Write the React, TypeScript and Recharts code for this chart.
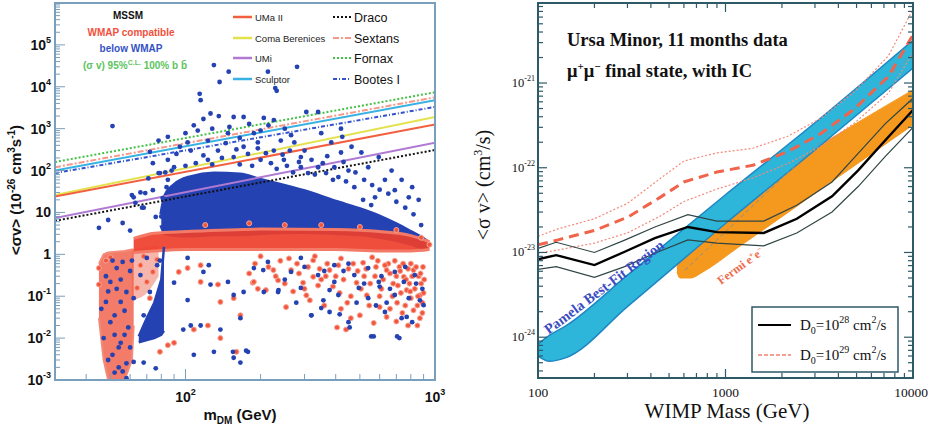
import { Area, ComposedChart, Line, Scatter, XAxis, YAxis } from 'recharts';

const SANS = '"Liberation Sans", Arial, sans-serif';
const SERIF = '"Liberation Serif", "Times New Roman", serif';

// ---------- left panel: MSSM scan against dSph limits ----------
const MASS_RANGE = [30, 1000];
const SIGMA_RANGE = [1e-3, 1e6];
const MASS_TICKS = [30, 40, 50, 60, 70, 80, 90, 100, 200, 300, 400, 500, 600, 700, 800, 900, 1000];
const SIGMA_DECADES = [-3, -2, -1, 0, 1, 2, 3, 4, 5];

// limit lines, value at 30 GeV and at 1000 GeV
const LIMIT_NAMES = ['Fornax', 'Sextans', 'Sculptor', 'Bootes I', 'Coma Berenices', 'UMa II', 'UMi', 'Draco'];
const LIMIT_AT_30 = [160, 120, 100, 87, 26, 24, 7.4, 6.3];
const LIMIT_AT_1000 = [7400, 5600, 4800, 3300, 1900, 1250, 460, 310];

// dense parts of the scan: [mass, low, high]
const BLUE_CORE = [
  [80, 5, 9], [83, 3.2, 25], [90, 2.9, 45], [105, 2.8, 70], [130, 3, 85], [165, 3, 80],
  [200, 3.2, 60], [300, 3.4, 32], [400, 3.2, 18], [500, 3, 12], [600, 2.6, 8],
  [700, 2.2, 5.2], [800, 1.8, 3.4], [900, 1.5, 2.3], [940, 1.6, 1.9],
];
const BLUE_TONGUE = [[65, 0.008, 0.011], [70, 0.009, 0.03], [75, 0.01, 0.07], [80, 0.012, 0.25], [82, 0.015, 1.5]];
const RED_BAND = [[62, 1.1, 2.4], [75, 1.2, 3.2], [100, 1.3, 3.5], [200, 1.3, 4], [400, 1.3, 3.9], [600, 1.2, 3.5], [800, 1.2, 2.8], [950, 1.3, 2]];
const RED_STRIP = [[45, 0.03, 0.6], [47, 0.003, 1], [49, 0.001, 1.1], [57, 0.001, 1.2], [61, 0.003, 1.3], [62, 0.02, 1.3]];
const RED_SHOULDER = [[61, 0.08, 1.3], [70, 0.12, 1.5], [78, 0.3, 1.6]];

// sparse points: [mass, <sigma v>]
const BLUE_SPARSE = [
  [51, 1150], [130, 33000], [149, 23000], [137, 13000], [214, 23000], [229, 9300], [232, 8000], [280, 30000],
  [114, 6800], [115, 4800], [118, 1700], [126, 2300], [136, 2000], [108, 1200], [156, 1900], [171, 1900],
  [206, 1800], [226, 1600], [305, 2500], [340, 2500], [420, 1000], [425, 640], [85, 640], [78, 520],
  [72, 280], [95, 370], [100, 780], [102, 470], [123, 520], [148, 780], [188, 780], [195, 470], [241, 520],
  [273, 470], [350, 780], [384, 470], [463, 370], [507, 270], [595, 210], [395, 120], [540, 120], [670, 100],
  [450, 100], [420, 270], [290, 210], [310, 87], [630, 60], [735, 60], [810, 40], [860, 20], [785, 23],
  [555, 15], [515, 20], [62, 23], [66, 30], [68, 13], [79, 87], [85, 60], [90, 40], [85, 180], [123, 180],
  [135, 300], [156, 210], [171, 370], [200, 180], [226, 300], [248, 180], [290, 120], [340, 120], [366, 87],
  [410, 70], [475, 40], [575, 23], [690, 34], [61, 26], [69, 29], [74, 34], [81, 22], [63, 17], [67, 13],
  [76, 7.8], [49, 6.6], [45, 4.3], [56, 5.6], [60, 3.7], [71, 65], [78, 87], [90, 120], [83, 90], [74, 150],
  [110, 150], [118, 230], [128, 140], [140, 200], [145, 450], [160, 320], [165, 140], [178, 250], [185, 130],
  [195, 340], [210, 260], [220, 150], [232, 110], [245, 240], [255, 130], [262, 300], [270, 90], [285, 160],
  [300, 300], [320, 180], [330, 80], [355, 150], [370, 220], [390, 60], [430, 160], [440, 55], [480, 90],
  [520, 60], [560, 45], [600, 35], [650, 28], [700, 18], [760, 13], [820, 9], [880, 5], [105, 300], [112, 900],
  [128, 1000], [150, 1100], [165, 600], [180, 1300], [200, 900], [215, 1200], [250, 1000], [265, 700],
  [100, 130], [92, 250], [88, 100], [84, 40], [82, 15], [80, 8], [83, 5],
  [102, 0.82], [90, 0.21], [102, 0.081], [98, 0.016], [105, 0.02], [115, 0.02], [108, 0.004], [130, 0.0047],
  [156, 0.0034], [166, 0.0026], [178, 0.0047], [155, 0.0047], [76, 0.0019], [68, 0.0026], [124, 0.55],
  [118, 0.38], [126, 0.19], [148, 0.22], [156, 0.107], [166, 0.03], [138, 0.016], [171, 0.126], [206, 0.126],
  [235, 0.126], [290, 0.158], [320, 0.035], [350, 0.052], [378, 0.042], [410, 0.107], [450, 0.024],
  [455, 0.018], [555, 0.011], [705, 0.011], [735, 0.03], [810, 0.024], [900, 0.061], [630, 0.042],
  [690, 0.107], [785, 0.09], [540, 0.09], [495, 0.158], [395, 0.22], [340, 0.32], [265, 0.38], [188, 0.47],
  [214, 0.66], [290, 0.82], [395, 0.55], [540, 0.47], [690, 0.38], [830, 0.32], [750, 0.22], [595, 0.22],
  [475, 0.32], [175, 0.005], [319, 0.035], [568, 0.011], [720, 0.01], [415, 0.037], [236, 0.14], [278, 0.07],
  [357, 0.08], [485, 0.07], [640, 0.07], [870, 0.08], [205, 0.42], [378, 0.14], [600, 0.17], [770, 0.032],
  [300, 0.5], [450, 0.6], [520, 0.2], [610, 0.3], [660, 0.15], [760, 0.5], [840, 0.2], [890, 0.15],
  [580, 0.06], [430, 0.4], [250, 0.25], [360, 0.4],
  [58, 0.0011], [56, 0.0016], [62, 0.0027], [51, 0.004], [52, 0.035], [55, 0.073], [58, 0.126], [50, 0.22],
  [53, 0.47], [56, 0.66], [59, 0.018], [55, 0.0077], [50, 0.024], [48, 0.073], [51, 0.71], [62, 0.09],
  [68, 0.035], [72, 0.126], [66, 0.32], [70, 0.82], [77, 0.55], [79, 0.71], [61, 0.71],
  [47, 0.01], [49, 0.003], [52, 0.0015], [54, 0.006], [57, 0.012], [53, 0.15], [48, 0.3], [60, 0.4],
  [46, 0.05], [55, 0.25], [57, 0.045], [49, 0.13], [60, 0.006], [52, 0.012], [58, 0.0025], [54, 0.002],
];
const RED_SPARSE = [
  [186, 0.21], [210, 0.14], [235, 0.24], [265, 0.42], [296, 0.21], [325, 0.29], [378, 0.42], [415, 0.12],
  [485, 0.21], [533, 0.105], [568, 0.023], [640, 0.032], [705, 0.07], [770, 0.14], [820, 0.046], [870, 0.105],
  [440, 0.016], [405, 0.018], [305, 0.105], [253, 0.055], [225, 0.42], [640, 0.42], [750, 0.29], [820, 0.42],
  [325, 0.72], [515, 0.63], [115, 0.22], [135, 0.19], [156, 0.09], [166, 0.035], [160, 0.0047], [108, 0.016],
  [123, 0.02], [138, 0.01], [85, 0.0068], [90, 0.0077], [79, 0.0047], [188, 0.22], [138, 0.073], [94, 0.38],
  [102, 0.47], [115, 0.55], [45, 0.47], [45, 0.19], [48, 0.71], [50, 0.85], [66, 0.55], [70, 0.22], [74, 0.38],
  [64, 0.158], [68, 0.9], [77, 0.75], [72, 0.09], [120, 5], [180, 5.5], [250, 5], [350, 5], [500, 4.5],
  [700, 3.8], [880, 2.5], [950, 1.7], [200, 0.9], [260, 0.8], [330, 0.9], [420, 0.8], [560, 0.85], [650, 0.6],
  [720, 0.5], [800, 0.6], [880, 0.2], [900, 0.12], [850, 0.06],
  [190, 0.6], [230, 0.3], [280, 0.6], [300, 0.15], [350, 0.25], [370, 0.6], [400, 0.3], [450, 0.45],
  [460, 0.1], [520, 0.3], [550, 0.2], [580, 0.5], [600, 0.1], [620, 0.25], [680, 0.2], [700, 0.3], [730, 0.12],
  [760, 0.06], [790, 0.2], [830, 0.15], [860, 0.3], [890, 0.04], [660, 0.05], [740, 0.04], [800, 0.09],
  [850, 0.02], [600, 0.055], [500, 0.035], [360, 0.06],
  [180, 0.35], [195, 0.15], [215, 0.5], [240, 0.7], [250, 0.2], [270, 0.13], [285, 0.35], [310, 0.5],
  [315, 0.08], [340, 0.18], [345, 0.45], [365, 0.3], [390, 0.17], [410, 0.55], [430, 0.25], [445, 0.07],
  [470, 0.6], [490, 0.4], [505, 0.15], [530, 0.45], [545, 0.06], [575, 0.3], [590, 0.7], [610, 0.15],
  [630, 0.55], [660, 0.35], [675, 0.1], [690, 0.7], [710, 0.18], [725, 0.4], [745, 0.6], [765, 0.25],
  [780, 0.45], [795, 0.13], [810, 0.3], [840, 0.5], [855, 0.1], [875, 0.35], [890, 0.07], [905, 0.25],
  [895, 0.5], [870, 0.03], [780, 0.02], [700, 0.025], [460, 0.03], [420, 0.05],
];

// ---------- right panel: Ursa Minor limits ----------
const WIMP_RANGE = [100, 10000];
const XSEC_RANGE = [3.3e-25, 8.8e-21];
const WIMP_TICKS = [100, 200, 300, 400, 500, 600, 700, 800, 900, 1000, 2000, 3000, 4000, 5000, 6000, 7000, 8000, 9000, 10000];
const XSEC_DECADES = [-25, -24, -23, -22, -21];

const D28_MASS = [100, 125, 200, 290, 420, 630, 900, 1600, 2400, 3700, 5100, 7100, 10000];
const D28_CENTRAL = [8.3e-24, 9.3e-24, 7.1e-24, 1.02e-23, 1.48e-23, 2.0e-23, 1.74e-23, 1.7e-23, 2.5e-23, 4.6e-23, 9.3e-23, 2.1e-22, 4.8e-22];
const D28_UPPER = [1.12e-23, 1.32e-23, 1.0e-23, 1.4e-23, 2.0e-23, 2.8e-23, 2.35e-23, 2.35e-23, 3.6e-23, 6.8e-23, 1.48e-22, 3.3e-22, 6.6e-22];
const D28_LOWER = [6.3e-24, 6.8e-24, 5.1e-24, 6.8e-24, 9.8e-24, 1.41e-23, 1.29e-23, 1.2e-23, 1.7e-23, 3.0e-23, 6.0e-23, 1.35e-22, 3.0e-22];

const D29_MASS = [100, 128, 200, 300, 450, 600, 900, 1400, 2150, 3200, 4900, 7400, 10000];
const D29_CENTRAL = [1.23e-23, 1.41e-23, 1.82e-23, 2.6e-23, 4.5e-23, 6.8e-23, 8.9e-23, 1.07e-22, 1.55e-22, 2.5e-22, 5.0e-22, 1.2e-21, 3.7e-21];
const D29_UPPER = [1.55e-23, 1.9e-23, 2.5e-23, 3.8e-23, 7.5e-23, 1.2e-22, 1.5e-22, 1.7e-22, 2.35e-22, 3.8e-22, 8e-22, 2.1e-21, 7.4e-21];
const D29_LOWER = [9.8e-24, 1.07e-23, 1.29e-23, 1.7e-23, 2.7e-23, 4.0e-23, 5.6e-23, 7.6e-23, 1.12e-22, 1.77e-22, 3.4e-22, 7.6e-22, 2.3e-21];

const PAMELA_REGION = [[100, 6.0e-25, 8.3e-25], [115, 5.2e-25, 1.05e-24], [140, 5.7e-25, 1.35e-24], [300, 2.3e-24, 5.4e-24], [1000, 2.2e-23, 4.8e-23], [3000, 1.62e-22, 3.4e-22], [10000, 1.5e-21, 3.2e-21]];
const FERMI_REGION = [[551, 5.9e-24, 6.6e-24], [571, 5.0e-24, 8.5e-24], [650, 5.0e-24, 1.2e-23], [758, 5.9e-24, 1.8e-23], [1150, 1.12e-23, 3.5e-23], [1725, 2.1e-23, 7.9e-23], [4000, 7.8e-23, 2.5e-22], [10000, 3.2e-22, 8.3e-22]];
const FERMI_AXIS = [[608, 6.2e-24], [10000, 2.2e-21]];

// ---------- styling ----------
const LEFT_FRAME = '#7a9fbc';
const RIGHT_FRAME = '#2e5a68';
const BLUE_DOT = '#2442b2';
const RED_DOT = '#f2553c';

const LIMIT_STYLE: Record<string, { color: string; dash?: string }> = {
  'UMa II': { color: '#f2603f' },
  'Coma Berenices': { color: '#e4e24c' },
  UMi: { color: '#b07ad2' },
  Sculptor: { color: '#38b2e2' },
  Draco: { color: '#111111', dash: '2 2' },
  Sextans: { color: '#f6998a', dash: '6 2 2 2' },
  Fornax: { color: '#44c046', dash: '2 2' },
  'Bootes I': { color: '#3352cf', dash: '4 2 1 2' },
};

const toRange = (rows: number[][]) => rows.map(([x, lo, hi]) => ({ x, r: [lo, hi] }));
const toPoints = (rows: number[][]) => rows.map(([x, y]) => ({ x, y }));
const toLine = (xs: number[], ys: number[]) => xs.map((x, i) => ({ x, y: ys[i] }));

function withMinors(decades: number[], range: number[]) {
  const out: number[] = [];
  decades.forEach((e) => {
    for (let m = 1; m < 10; m++) {
      const v = Number((m * Math.pow(10, e)).toPrecision(3));
      if (v >= range[0] && v <= range[1]) out.push(v);
    }
  });
  return out;
}

function isDecade(v: number) {
  const l = Math.log10(v);
  return Math.abs(l - Math.round(l)) < 1e-6;
}

const SIGMA_TICKS = [...withMinors(SIGMA_DECADES, SIGMA_RANGE), 1e6];
const XSEC_TICKS = withMinors(XSEC_DECADES, XSEC_RANGE);

const LEFT_H = 377;
const RIGHT_SIZE = 375;

function LeftMassTick({ x, y, payload }: any) {
  const v = payload.value;
  const major = isDecade(v);
  const e = Math.round(Math.log10(v));
  return (
    <g>
      <line x1={x} x2={x} y1={y} y2={y - (major ? 11 : 6)} stroke={LEFT_FRAME} />
      {major && (
        <text x={x} y={y + 22} textAnchor="middle" fontFamily={SANS} fontWeight="bold" fontSize={14} fill="#111">
          <tspan>10</tspan>
          <tspan dy={-7} fontSize={9}>{e}</tspan>
        </text>
      )}
    </g>
  );
}

function SigmaTick({ x, y, payload }: any) {
  const v = payload.value;
  const major = isDecade(v);
  const e = Math.round(Math.log10(v));
  let label: any = null;
  if (major && e < 6) {
    label = e === 0 ? '1' : e === 1 ? '10' : (
      <>
        <tspan>10</tspan>
        <tspan dy={-7} fontSize={9}>{e}</tspan>
      </>
    );
  }
  return (
    <g>
      <line x1={x} x2={x + (major ? 10 : 5)} y1={y} y2={y} stroke={LEFT_FRAME} />
      {label && (
        <text x={x - 4} y={y + 5} textAnchor="end" fontFamily={SANS} fontWeight="bold" fontSize={14} fill="#111">
          {label}
        </text>
      )}
    </g>
  );
}

function WimpTick({ x, y, payload }: any) {
  const v = payload.value;
  const major = isDecade(v);
  const len = major ? 9 : 5;
  return (
    <g>
      <line x1={x} x2={x} y1={y} y2={y - len} stroke={RIGHT_FRAME} strokeWidth={1.2} />
      <line x1={x} x2={x} y1={y - RIGHT_SIZE} y2={y - RIGHT_SIZE + len} stroke={RIGHT_FRAME} strokeWidth={1.2} />
      {major && (
        <text x={x + (v === 10000 ? -2 : 0)} y={y + 19} textAnchor="middle" fontFamily={SERIF} fontSize={13.5} fill="#111">
          {v}
        </text>
      )}
    </g>
  );
}

function XsecTick({ x, y, payload }: any) {
  const v = payload.value;
  const major = isDecade(v);
  const e = Math.round(Math.log10(v));
  const len = major ? 9 : 5;
  return (
    <g>
      <line x1={x} x2={x + len} y1={y} y2={y} stroke={RIGHT_FRAME} strokeWidth={1.2} />
      <line x1={x + RIGHT_SIZE} x2={x + RIGHT_SIZE - len} y1={y} y2={y} stroke={RIGHT_FRAME} strokeWidth={1.2} />
      {major && (
        <text x={x - 3} y={y + 4} textAnchor="end" fontFamily={SERIF} fontSize={12.5} fill="#111">
          <tspan>10</tspan>
          <tspan dy={-6} fontSize={8}>{e}</tspan>
        </text>
      )}
    </g>
  );
}

const dot = (fill: string, r: number, halo?: string) => (p: any) => (
  <circle cx={p.cx} cy={p.cy} r={r} fill={fill} stroke={halo ?? 'none'} strokeWidth={halo ? 1 : 0} />
);

const areaBase = { dataKey: 'r', isAnimationActive: false, dot: false, activeDot: false };

function MssmChart() {
  return (
    <ComposedChart width={460} height={430} margin={{ top: 3, right: 25, bottom: 0, left: 0 }}>
      <XAxis
        dataKey="x" type="number" scale="log" domain={MASS_RANGE} allowDataOverflow ticks={MASS_TICKS}
        interval={0} tick={(p: any) => <LeftMassTick {...p} />} tickLine={false} axisLine={false}
        tickSize={0} tickMargin={0} height={50}
      />
      <YAxis
        type="number" scale="log" domain={SIGMA_RANGE} allowDataOverflow ticks={SIGMA_TICKS}
        interval={0} tick={(p: any) => <SigmaTick {...p} />} tickLine={false} axisLine={false}
        tickSize={0} tickMargin={0} width={55}
      />
      <Area data={toRange(BLUE_CORE)} {...areaBase} type="monotone" fill={BLUE_DOT} fillOpacity={1} stroke={BLUE_DOT} strokeWidth={4} strokeLinejoin="round" />
      <Area data={toRange(RED_SHOULDER)} {...areaBase} type="monotone" fill="#f07a66" fillOpacity={0.55} stroke="none" />
      <Area data={toRange(RED_STRIP)} {...areaBase} type="linear" fill="#ef5a44" fillOpacity={0.8} stroke="#f48a78" strokeWidth={2} />
      <Area data={toRange(RED_BAND)} {...areaBase} type="monotone" fill="#ee3f2c" fillOpacity={0.92} stroke="#f37a66" strokeWidth={3} />
      <Scatter data={toPoints(RED_SPARSE)} dataKey="y" shape={dot(RED_DOT, 2.5, '#f7a494')} isAnimationActive={false} />
      <Area data={toRange(BLUE_TONGUE)} {...areaBase} type="linear" fill={BLUE_DOT} fillOpacity={1} stroke={BLUE_DOT} strokeWidth={2.5} />
      <Scatter data={toPoints(BLUE_SPARSE)} dataKey="y" shape={dot(BLUE_DOT, 2.4)} isAnimationActive={false} />
      {LIMIT_NAMES.map((name, i) => (
        <Line
          key={name}
          name={name}
          data={toLine(MASS_RANGE, [LIMIT_AT_30[i], LIMIT_AT_1000[i]])}
          dataKey="y"
          type="linear"
          stroke={LIMIT_STYLE[name].color}
          strokeDasharray={LIMIT_STYLE[name].dash}
          strokeWidth={2}
          dot={false}
          activeDot={false}
          isAnimationActive={false}
        />
      ))}
    </ComposedChart>
  );
}

function UrsaMinorChart() {
  const lineProps = { dataKey: 'y', type: 'linear' as const, dot: false, activeDot: false, isAnimationActive: false };
  return (
    <ComposedChart width={464} height={430} margin={{ top: 3, right: 21, bottom: 0, left: 0 }}>
      <XAxis
        dataKey="x" type="number" scale="log" domain={WIMP_RANGE} allowDataOverflow ticks={WIMP_TICKS}
        interval={0} tick={(p: any) => <WimpTick {...p} />} tickLine={false} axisLine={false}
        tickSize={0} tickMargin={0} height={52}
      />
      <YAxis
        type="number" scale="log" domain={XSEC_RANGE} allowDataOverflow ticks={XSEC_TICKS}
        interval={0} tick={(p: any) => <XsecTick {...p} />} tickLine={false} axisLine={false}
        tickSize={0} tickMargin={0} width={68}
      />
      <Area data={toRange(FERMI_REGION)} {...areaBase} type="monotone" fill="#f5981e" fillOpacity={1} stroke="#f5981e" strokeWidth={1} />
      <Area data={toRange(PAMELA_REGION)} {...areaBase} type="monotone" fill="#2db6da" fillOpacity={1} stroke="#1f86c4" strokeWidth={1.5} />
      <Line data={toPoints(FERMI_AXIS)} {...lineProps} stroke="#8a8f8f" strokeWidth={1} strokeDasharray="4 3" />
      <Line data={toLine(D29_MASS, D29_UPPER)} {...lineProps} stroke="#f4887a" strokeWidth={1.2} strokeDasharray="2 2" />
      <Line data={toLine(D29_MASS, D29_LOWER)} {...lineProps} stroke="#f08a7c" strokeWidth={1.2} strokeDasharray="2 2" />
      <Line data={toLine(D29_MASS, D29_CENTRAL)} {...lineProps} stroke="#f0644c" strokeWidth={3} strokeDasharray="10 6" />
      <Line data={toLine(D28_MASS, D28_UPPER)} {...lineProps} stroke="#2f4544" strokeWidth={1.2} />
      <Line data={toLine(D28_MASS, D28_LOWER)} {...lineProps} stroke="#2f4544" strokeWidth={1.2} />
      <Line data={toLine(D28_MASS, D28_CENTRAL)} {...lineProps} stroke="#000" strokeWidth={2.4} />
    </ComposedChart>
  );
}

const LEGEND_LEFT = ['UMa II', 'Coma Berenices', 'UMi', 'Sculptor'];
const LEGEND_RIGHT = ['Draco', 'Sextans', 'Fornax', 'Bootes I'];
const LEGEND_ROWS = [17, 38, 58, 79];

function Overlay() {
  return (
    <svg width={934} height={430} style={{ position: 'absolute', left: 0, top: 0, pointerEvents: 'none' }}>
      <rect x={55} y={3} width={380} height={LEFT_H} fill="none" stroke={LEFT_FRAME} strokeWidth={2} />
      <rect x={538} y={3} width={RIGHT_SIZE} height={RIGHT_SIZE} fill="none" stroke={RIGHT_FRAME} strokeWidth={2} />

      <g fontFamily={SANS} fontWeight="bold" textAnchor="middle">
        <text x={128} y={19} fontSize={10} fill="#111">MSSM</text>
        <text x={131} y={36} fontSize={10} fill="#f2503c">WMAP compatible</text>
        <text x={131} y={52} fontSize={10} fill="#3452c4">below WMAP</text>
        <text x={135} y={69} fontSize={10} fill="#5cc45e">
          (σ v) 95%<tspan dy={-4} fontSize={7}>C.L.</tspan><tspan dy={4}> 100% b b̄</tspan>
        </text>
      </g>
      {LEGEND_LEFT.map((name, i) => (
        <g key={name}>
          <line x1={233} x2={252} y1={LEGEND_ROWS[i]} y2={LEGEND_ROWS[i]} stroke={LIMIT_STYLE[name].color} strokeWidth={2.5} />
          <text x={255} y={LEGEND_ROWS[i] + 3.5} fontFamily={SANS} fontSize={9.5} fill="#222">{name}</text>
        </g>
      ))}
      {LEGEND_RIGHT.map((name, i) => (
        <g key={name}>
          <line x1={333} x2={351} y1={LEGEND_ROWS[i]} y2={LEGEND_ROWS[i]} stroke={LIMIT_STYLE[name].color} strokeWidth={2} strokeDasharray={LIMIT_STYLE[name].dash} />
          <text x={354} y={LEGEND_ROWS[i] + 4.5} fontFamily={SANS} fontSize={12.5} fill="#111">{name}</text>
        </g>
      ))}
      <text transform="translate(21,190) rotate(-90)" textAnchor="middle" fontFamily={SANS} fontWeight="bold" fontSize={15} fill="#111">
        &lt;σv&gt; (10<tspan dy={-6} fontSize={10}>-26</tspan><tspan dy={6}> cm</tspan><tspan dy={-6} fontSize={10}>3</tspan><tspan dy={6}>s</tspan><tspan dy={-6} fontSize={10}>-1</tspan><tspan dy={6}>)</tspan>
      </text>
      <text x={240} y={420} textAnchor="middle" fontFamily={SANS} fontWeight="bold" fontSize={15} fill="#111">
        m<tspan dy={4} fontSize={10}>DM</tspan><tspan dy={-4}> (GeV)</tspan>
      </text>

      <g fontFamily={SERIF} fontWeight="bold" fill="#111">
        <text x={567} y={46} fontSize={18.5}>Ursa Minor, 11 months data</text>
        <text x={567} y={77} fontSize={18.5}>
          μ<tspan dy={-7} fontSize={11}>+</tspan><tspan dy={7}>μ</tspan><tspan dy={-7} fontSize={11}>−</tspan><tspan dy={7}> final state, with IC</tspan>
        </text>
      </g>
      <text transform="translate(607,291) rotate(-37)" textAnchor="middle" fontFamily={SERIF} fontWeight="bold" fontSize={14.5} fill="#3a4cc2">
        Pamela Best-Fit Region
      </text>
      <text transform="translate(743,269) rotate(-36)" textAnchor="middle" fontFamily={SERIF} fontWeight="bold" fontSize={12} fill="#ee6a4c">
        Fermi e<tspan dy={-4} fontSize={8}>+</tspan><tspan dy={4}>e</tspan><tspan dy={-4} fontSize={8}>−</tspan>
      </text>
      <rect x={752} y={307} width={146} height={65} fill="#fff" stroke={RIGHT_FRAME} strokeWidth={1.5} />
      <line x1={758} x2={791} y1={325} y2={325} stroke="#000" strokeWidth={2} />
      <line x1={758} x2={791} y1={355} y2={355} stroke="#f0806e" strokeWidth={1.5} strokeDasharray="4 2" />
      <g fontFamily={SERIF} fontSize={15} fill="#111">
        <text x={800} y={330}>
          D<tspan dy={4} fontSize={10}>0</tspan><tspan dy={-4}>=10</tspan><tspan dy={-7} fontSize={10}>28</tspan><tspan dy={7}> cm</tspan><tspan dy={-7} fontSize={10}>2</tspan><tspan dy={7}>/s</tspan>
        </text>
        <text x={800} y={360}>
          D<tspan dy={4} fontSize={10}>0</tspan><tspan dy={-4}>=10</tspan><tspan dy={-7} fontSize={10}>29</tspan><tspan dy={7}> cm</tspan><tspan dy={-7} fontSize={10}>2</tspan><tspan dy={7}>/s</tspan>
        </text>
      </g>
      <text transform="translate(490,185) rotate(-90)" textAnchor="middle" fontFamily={SERIF} fontSize={20} fill="#111">
        &lt;σ v&gt; (cm<tspan dy={-8} fontSize={12}>3</tspan><tspan dy={8}>/s)</tspan>
      </text>
      <text x={727} y={418} textAnchor="middle" fontFamily={SERIF} fontSize={21} fill="#111">WIMP Mass (GeV)</text>
    </svg>
  );
}

export default function App() {
  return (
    <div style={{ position: 'absolute', left: 0, top: 0, width: 934, height: 430, background: '#fff', overflow: 'hidden' }}>
      <div style={{ position: 'absolute', left: 0, top: 0 }}>
        <MssmChart />
      </div>
      <div style={{ position: 'absolute', left: 470, top: 0 }}>
        <UrsaMinorChart />
      </div>
      <Overlay />
    </div>
  );
}
